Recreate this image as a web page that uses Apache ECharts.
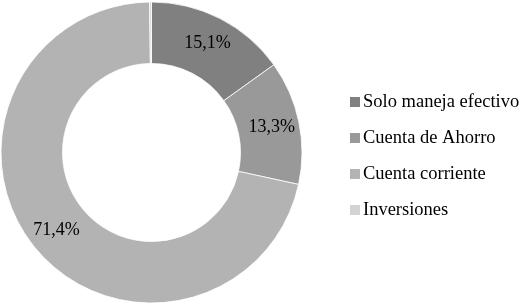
<!DOCTYPE html>
<html>
<head>
<meta charset="utf-8">
<script src="https://cdn.jsdelivr.net/npm/echarts@6/dist/echarts.min.js"></script>
<style>
  html, body { margin: 0; padding: 0; background: #fff; }
  #chart { width: 520px; height: 304px; }
</style>
</head>
<body>
<div id="chart"></div>
<script>
// categorías y porcentajes
const categories = ['Solo maneja efectivo', 'Cuenta de Ahorro', 'Cuenta corriente', 'Inversiones'];
const values = [15.1, 13.3, 71.4, 0.2];
const colors = ['#808080', '#999999', '#b3b3b3', '#d3d3d3'];

const serif = '"Liberation Serif", "Times New Roman", serif';

const chart = echarts.init(document.getElementById('chart'));

// leyenda dibujada con graphic (la leyenda nativa se encogía)
const legendItems = [];
categories.forEach((name, i) => {
  legendItems.push({
    type: 'rect',
    shape: { x: 350, y: 97 + i * 36, width: 10, height: 10 },
    style: { fill: colors[i] }
  });
  legendItems.push({
    type: 'text',
    x: 363,
    y: 102 + i * 36,
    style: { text: name, font: '18.5px ' + serif, fill: '#000', verticalAlign: 'middle' }
  });
});

const option = {
  animation: false,
  color: colors,
  textStyle: { fontFamily: serif },
  graphic: legendItems,
  series: [
    {
      type: 'pie',
      center: [151.5, 152.5],
      radius: [89, 150.5],
      startAngle: 90,
      clockwise: true,
      avoidLabelOverlap: false,
      itemStyle: { borderColor: '#fff', borderWidth: 0.8 },
      label: {
        show: true,
        position: 'inside',
        fontFamily: serif,
        fontSize: 18,
        color: '#000',
        formatter: function (p) {
          if (p.value < 1) return '';
          return p.value.toFixed(1).replace('.', ',') + '%';
        }
      },
      labelLine: { show: false },
      emphasis: { disabled: true },
      data: categories.map((name, i) => ({ name: name, value: values[i] }))
    }
  ]
};

chart.setOption(option);
</script>
</body>
</html>
